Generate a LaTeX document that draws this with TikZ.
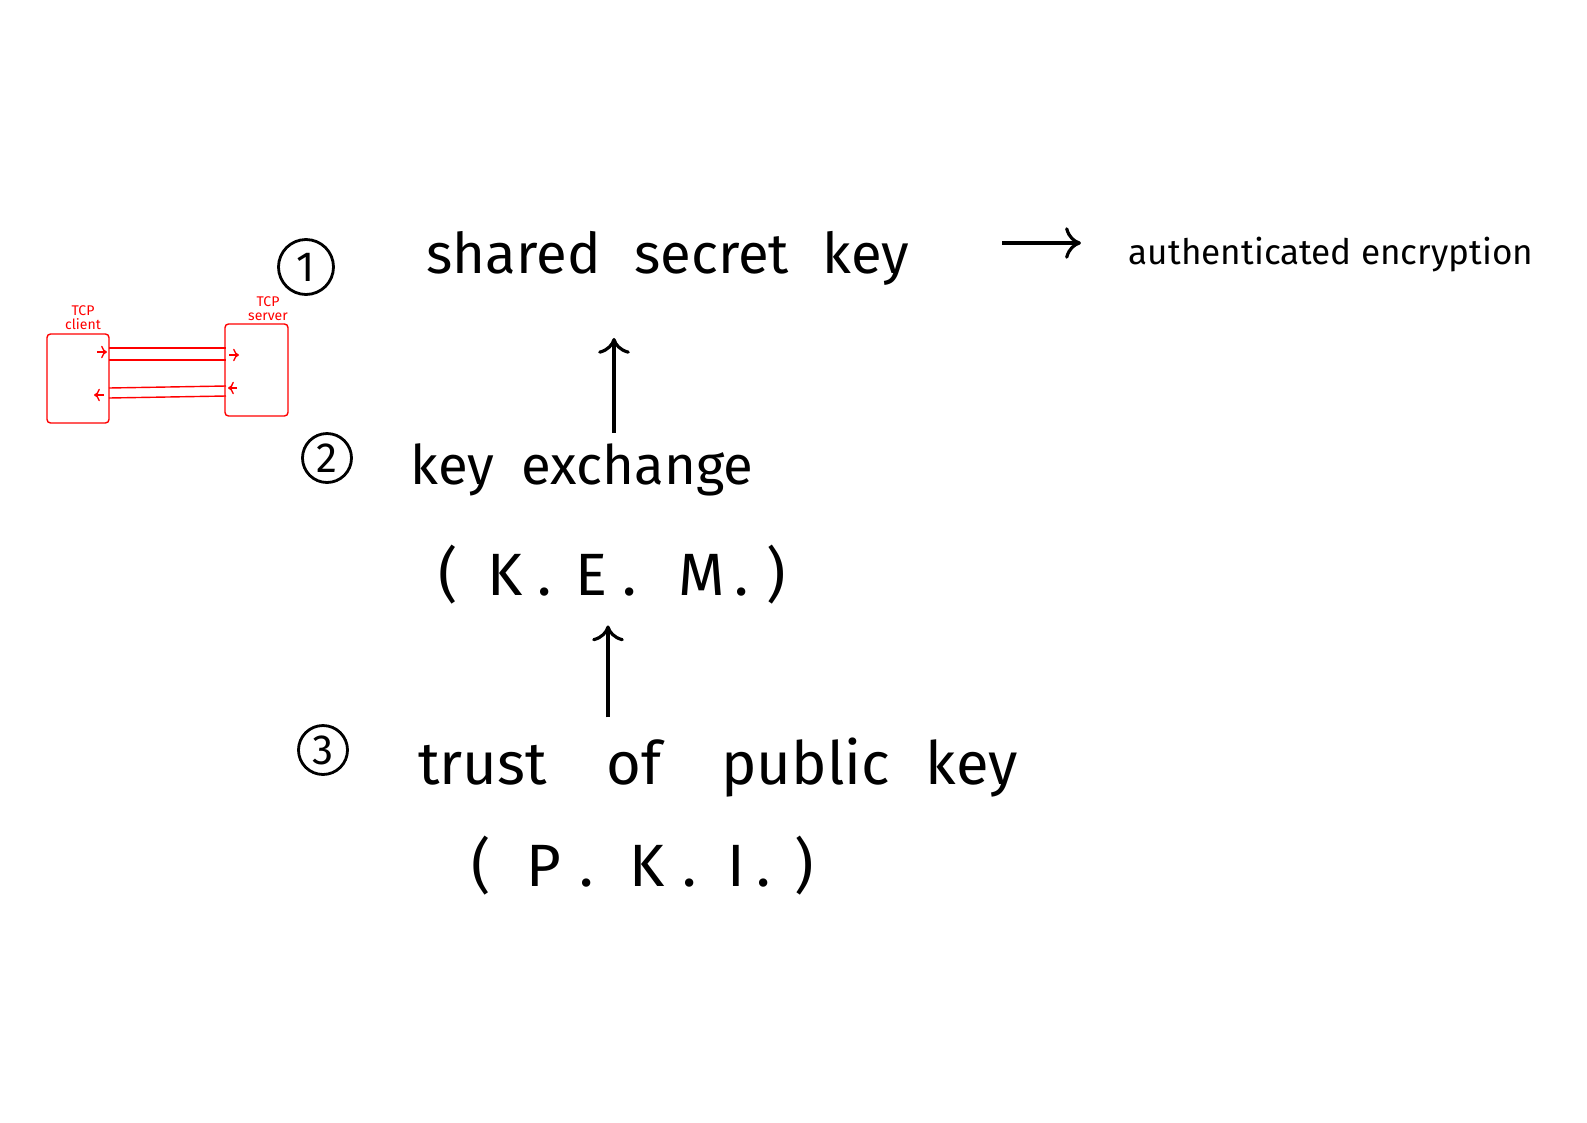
\documentclass[tikz,border=0pt]{standalone}
\usepackage{fontspec}
\setmainfont{Fira Sans}
\usetikzlibrary{calc}
\usetikzlibrary{arrows.meta}

\begin{document}
\begin{tikzpicture}[x=0.02cm, y=-0.02cm]
                \tikzstyle{num} = [draw, circle, line width=1.6pt, inner sep=0pt, minimum size={#1}, font=\fontsize{24}{26}\selectfont]
                \tikzstyle{big} = [font=\fontsize{#1}{#1}\selectfont, inner sep=6pt]
                \tikzstyle{arrow} = [line width=1.8pt, -{To[length=9pt, width=18pt]}]
                \tikzstyle{tcp} = [red, line width=0.8pt]
                \tikzstyle{tcpbox} = [tcp, rounded corners=2pt]
                \tikzstyle{tiny} = [red, font=\fontsize{8}{8}\selectfont, align=center, inner sep=0pt]
                \useasboundingbox (0, 0) rectangle (1587, 1123);
                % the three layers
                \node[num=1.1cm] (one) at (306, 267) {1};
                \node[num=0.98cm] (two) at (327, 458) {2};
                \node[num=0.98cm] (three) at (323, 750) {3};
                \node[big=32] (shared) at (668, 258) {shared\hspace{0.6em}secret\hspace{0.6em}key};
                \node[big=20] (ae) at (1331, 255) {authenticated encryption};
                \node[big=31] (kex) at (582, 470) {key\hspace{0.5em}exchange};
                \node[big=34] (kem) at (612, 575) {(\hspace{0.5em}K\hspace{0.25em}.\hspace{0.4em}E\hspace{0.25em}.\hspace{0.7em}M\hspace{0.15em}.\hspace{0.3em})};
                \node[big=34] (trust) at (718, 768) {trust\hspace{1em}of\hspace{1em}public\hspace{0.6em}key};
                \node[big=34] (pki) at (643, 866) {(\hspace{0.6em}P\hspace{0.3em}.\hspace{0.6em}K\hspace{0.3em}.\hspace{0.5em}I\hspace{0.2em}.\hspace{0.4em})};
                \coordinate (up1) at (614, 0);
                \coordinate (up2) at (608, 0);
                \draw[arrow, shorten >=0.84cm] (kex.north -| up1) -- (shared.south -| up1);
                \draw[arrow, shorten <=0.2cm, shorten >=0.2cm] (trust.north -| up2) -- (kem.south -| up2);
                \draw[arrow] ($(shared.east)+(82,-15)$) -- ($(ae.west)+(-37,-12)$);
                % red sketch: tcp connection
                \draw[tcpbox] (47, 334) rectangle (109, 423);
                \draw[tcpbox] (225, 324) rectangle (288, 416);
                \node[tiny] (client) at (83, 318) {TCP\\client};
                \node[tiny] (server) at (268, 309) {TCP\\server};
                \draw[tcp] (109, 348) -- (226, 348);
                \draw[tcp] (109, 360) -- (226, 360);
                \draw[tcp] (109, 388) -- (226, 386);
                \draw[tcp] (109, 398) -- (226, 396);
                \draw[tcp, ->] (97, 352) -- (107, 352);
                \draw[tcp, ->] (229, 355) -- (239, 355);
                \draw[tcp, ->] (237, 388) -- (228, 388);
                \draw[tcp, ->] (104, 395) -- (94, 395);
            \end{tikzpicture}
\end{document}
